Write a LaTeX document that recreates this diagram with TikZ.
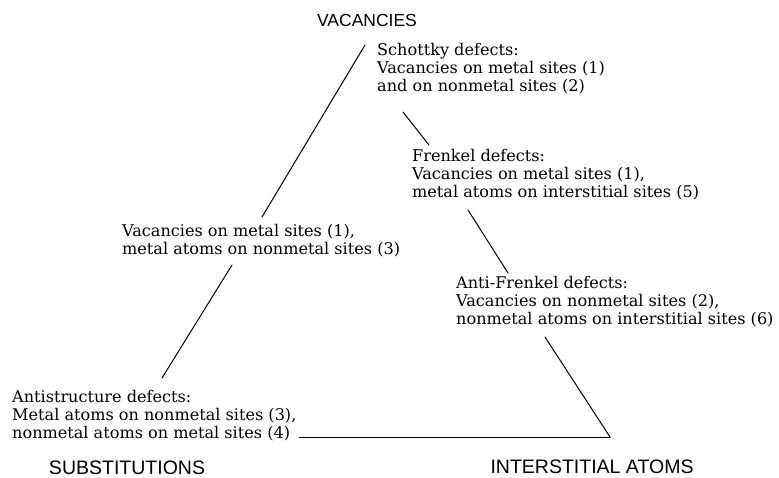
\documentclass[tikz,border=0pt]{standalone}
\usepackage{fontspec}
\setmainfont{DejaVu Serif}
\newfontfamily\capsfont{Liberation Sans}
\usepackage{tikz}
\usetikzlibrary{calc}

\begin{document}
\begin{tikzpicture}[x=1pt,y=-1pt]
\tikzstyle{defect}=[anchor=north west, inner sep=0pt, align=left, font=\fontsize{16.1}{18.2}\selectfont]
\tikzstyle{corner}=[anchor=base, inner sep=0pt, font=\capsfont\fontsize{17.5}{18}\selectfont]
\tikzstyle{bigcorner}=[corner, font=\capsfont\fontsize{19.5}{20}\selectfont]
\tikzstyle{connect}=[line width=1pt, line cap=round]

  \useasboundingbox (0,0) rectangle (779,477);

  \node[corner]    (vac)   at (367,26)  {VACANCIES};
  \node[bigcorner] (subst) at (127,474) {SUBSTITUTIONS};
  \node[bigcorner] (inter) at (592,473) {INTERSTITIAL ATOMS};

  \node[defect] (schottky)    at (377,43)  {Schottky defects:\\Vacancies on metal sites (1)\\and on nonmetal sites (2)};
  \node[defect] (frenkel)     at (412,149) {Frenkel defects:\\Vacancies on metal sites (1),\\metal atoms on interstitial sites (5)};
  \node[defect] (antifrenkel) at (456,276) {Anti-Frenkel defects:\\Vacancies on nonmetal sites (2),\\nonmetal atoms on interstitial sites (6)};
  \node[defect] (vacmet)      at (122,224) {Vacancies on metal sites (1),\\metal atoms on nonmetal sites (3)};
  \node[defect] (antistruct)  at (12,390)  {Antistructure defects:\\Metal atoms on nonmetal sites (3),\\nonmetal atoms on metal sites (4)};

  \coordinate (edge) at (610,437);

  % left side
  \draw[connect] ($(schottky.north west)+(-12,2)$) -- ($(vacmet.north west)+(140,-7)$);
  \draw[connect] ($(vacmet.north west)+(110,41)$) -- ($(antistruct.north west)+(150,-12)$);
  % bottom
  \draw[connect] ($(antistruct.north west)+(287,47)$) -- (edge);
  % right side
  \draw[connect] (edge) -- ($(antifrenkel.north west)+(89,61)$);
  \draw[connect] ($(antifrenkel.north west)+(52,-3)$) -- ($(frenkel.north west)+(56,61)$);
  \draw[connect] ($(frenkel.north west)+(17,-4)$) -- ($(schottky.north west)+(26,69)$);

\end{tikzpicture}
\end{document}
